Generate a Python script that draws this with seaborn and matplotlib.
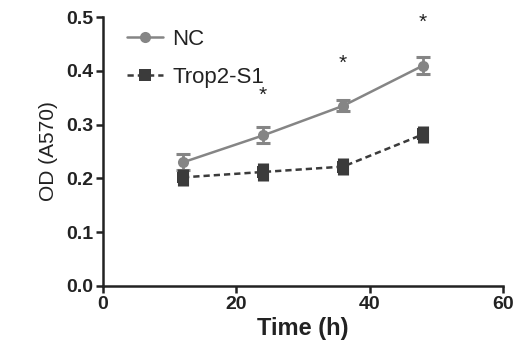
import matplotlib
matplotlib.use('Agg')
import matplotlib.pyplot as plt
import seaborn as sns
import pandas as pd

# values
time_h = [12, 24, 36, 48]
nc_mean = [0.230, 0.280, 0.335, 0.410]
nc_err = [0.015, 0.015, 0.010, 0.015]
trop_mean = [0.202, 0.212, 0.222, 0.282]
trop_err = [0.016, 0.016, 0.016, 0.016]
star_times = [24, 36, 48]
star_heights = [0.355, 0.415, 0.490]

nc_color = '#858585'
trop_color = '#3b3b3b'

sns.set_style('ticks')
plt.rcParams['font.family'] = ['Liberation Sans', 'DejaVu Sans']

df = pd.DataFrame({
    'time': time_h * 2,
    'od': nc_mean + trop_mean,
    'group': ['NC'] * 4 + ['Trop2-S1'] * 4,
})

fig = plt.figure(figsize=(5.23, 3.57), dpi=100)
ax = fig.add_axes([0.197, 0.199, 0.765, 0.753])

sns.lineplot(data=df, x='time', y='od', hue='group', style='group',
             palette={'NC': nc_color, 'Trop2-S1': trop_color},
             markers={'NC': 'o', 'Trop2-S1': 's'},
             dashes={'NC': '', 'Trop2-S1': (2.5, 1.6)},
             markersize=8, linewidth=1.8, markeredgewidth=0, ax=ax)

ax.errorbar(time_h, nc_mean, yerr=nc_err, fmt='none', ecolor=nc_color,
            elinewidth=2, capsize=5, capthick=2.2)
ax.errorbar(time_h, trop_mean, yerr=trop_err, fmt='none', ecolor=trop_color,
            elinewidth=8, capsize=0)

for t, h in zip(star_times, star_heights):
    ax.text(t, h, '*', ha='center', va='center', fontsize=15, color='#222222')

ax.set_xlim(0, 60)
ax.set_ylim(0, 0.5)
ax.set_xticks([0, 20, 40, 60])
ax.set_yticks([0.0, 0.1, 0.2, 0.3, 0.4, 0.5])
ax.set_yticklabels(['0.0', '0.1', '0.2', '0.3', '0.4', '0.5'])
ax.tick_params(axis='both', labelsize=14, width=1.8, length=5, color='#222222', pad=2)
for lab in ax.get_xticklabels() + ax.get_yticklabels():
    lab.set_fontweight('bold')
    lab.set_color('#222222')

for side in ['left', 'bottom']:
    ax.spines[side].set_linewidth(1.8)
    ax.spines[side].set_color('#222222')
sns.despine(ax=ax)

ax.set_xlabel('Time (h)', fontsize=17, fontweight='bold', color='#222222', labelpad=3)
ax.set_ylabel('OD (A570)', fontsize=15, color='#222222', labelpad=6)

leg = ax.legend(loc='upper left', bbox_to_anchor=(0.01, 1.03), frameon=False,
                fontsize=16, handlelength=1.6, handletextpad=0.45,
                labelspacing=0.75, title=None)
for txt in leg.get_texts():
    txt.set_color('#222222')

fig.savefig('out.png', dpi=100)
